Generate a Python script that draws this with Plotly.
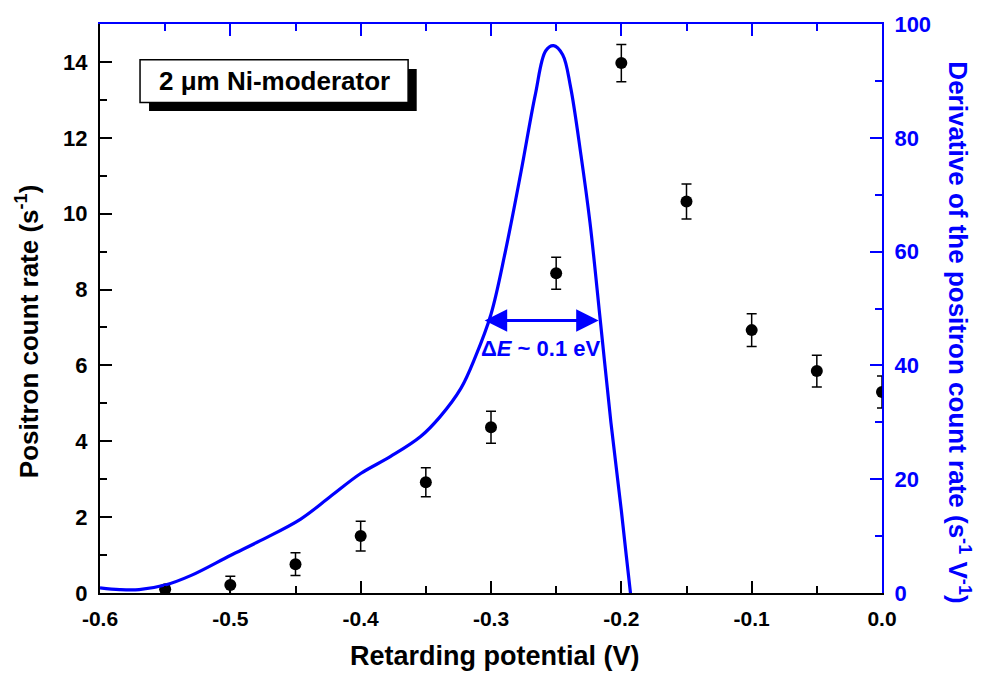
import plotly.graph_objects as go

# ---- data ----
potential = [-0.55, -0.5, -0.45, -0.4, -0.35, -0.3, -0.25, -0.2, -0.15, -0.1, -0.05, 0.0]
count_rate = [0.1, 0.21, 0.76, 1.5, 2.92, 4.37, 8.43, 13.97, 10.32, 6.93, 5.85, 5.3]
count_err = [0.1, 0.23, 0.3, 0.39, 0.38, 0.42, 0.42, 0.49, 0.46, 0.43, 0.42, 0.42]

deriv_x = [-0.6, -0.585, -0.57, -0.55, -0.53, -0.5, -0.477, -0.446, -0.423, -0.4, -0.377,
           -0.354, -0.339, -0.323, -0.312, -0.3, -0.289, -0.277, -0.266, -0.258, -0.252,
           -0.245, -0.239, -0.231, -0.224, -0.216, -0.208, -0.2, -0.193, -0.185]
deriv_y = [0.9, 0.6, 0.6, 1.4, 3.1, 6.6, 9.2, 13.0, 17.0, 21.0, 24.0,
           27.5, 31.0, 36.0, 41.5, 49.0, 60.0, 74.0, 87.6, 95.3, 96.2,
           94.6, 89.0, 77.0, 65.0, 47.6, 30.0, 14.5, 0.0, -15.0]

x_tickvals = [-0.6, -0.5, -0.4, -0.3, -0.2, -0.1, 0.0]
x_ticktext = ["-0.6", "-0.5", "-0.4", "-0.3", "-0.2", "-0.1", "0.0"]

arrow_left, arrow_right, arrow_level = -0.306, -0.2174, 47.9

FONT = "Liberation Sans, Arial, sans-serif"
BLUE = "#0000ff"

fig = go.Figure()
fig.add_trace(go.Scatter(
    x=potential, y=count_rate, mode="markers",
    marker=dict(color="black", size=12),
    error_y=dict(type="data", array=count_err, color="black", thickness=1.5, width=5),
    xaxis="x", yaxis="y", showlegend=False))
fig.add_trace(go.Scatter(
    x=deriv_x, y=deriv_y, mode="lines", line=dict(color=BLUE, width=3.2, shape="spline"),
    xaxis="x2", yaxis="y2", showlegend=False))

fig.update_layout(
    width=984, height=679,
    margin=dict(l=100, r=102, t=19, b=86),
    paper_bgcolor="white", plot_bgcolor="white",
    font=dict(family=FONT),
    xaxis=dict(range=[-0.6, 0.0], tickmode="array", tickvals=x_tickvals, ticktext=x_ticktext,
               showgrid=False, zeroline=False, showline=True, linecolor="black", linewidth=2,
               ticks="inside", ticklen=12, tickwidth=2, tickcolor="black",
               minor=dict(ticks="inside", ticklen=7, tickwidth=2, dtick=0.05, tick0=-0.6, tickcolor="black"),
               tickfont=dict(family=FONT, size=21, color="black", weight="bold"), ticklabelstandoff=6),
    xaxis2=dict(range=[-0.6, 0.0], overlaying="x", side="top", anchor="y2", matches="x",
                tickmode="array", tickvals=x_tickvals, showticklabels=False,
                showgrid=False, zeroline=False, showline=True, linecolor=BLUE, linewidth=2,
                ticks="inside", ticklen=12, tickwidth=2, tickcolor=BLUE,
                minor=dict(ticks="inside", ticklen=7, tickwidth=2, dtick=0.05, tick0=-0.6, tickcolor=BLUE)),
    yaxis=dict(range=[0, 15], dtick=2, tick0=0,
               showgrid=False, zeroline=False, showline=True, linecolor="black", linewidth=2,
               ticks="inside", ticklen=12, tickwidth=2, tickcolor="black",
               minor=dict(ticks="inside", ticklen=7, tickwidth=2, dtick=1, tickcolor="black"),
               tickfont=dict(family=FONT, size=22, color="black", weight="bold"), ticklabelstandoff=6),
    yaxis2=dict(range=[0, 100], dtick=20, tick0=0, overlaying="y", side="right", anchor="x2",
                showgrid=False, zeroline=False, showline=True, linecolor=BLUE, linewidth=2,
                ticks="inside", ticklen=12, tickwidth=2, tickcolor=BLUE,
                minor=dict(ticks="inside", ticklen=7, tickwidth=2, dtick=10, tickcolor=BLUE),
                tickfont=dict(family=FONT, size=22, color=BLUE, weight="bold"), ticklabelstandoff=6),
)

# axis titles
fig.add_annotation(xref="paper", yref="paper", x=0.505, y=-0.11, xanchor="center", yanchor="middle",
                   text="<b>Retarding potential (V)</b>", showarrow=False,
                   font=dict(family=FONT, size=27, color="black"))
fig.add_annotation(xref="paper", yref="paper", x=-0.0935, y=0.46, xanchor="center", yanchor="middle",
                   text="<b>Positron count rate (s<sup>-1</sup>)</b>", textangle=-90, showarrow=False,
                   font=dict(family=FONT, size=26, color="black"))
fig.add_annotation(xref="paper", yref="paper", x=1.0985, y=0.458, xanchor="center", yanchor="middle",
                   text="<b>Derivative of the positron count rate (s<sup>-1</sup> V<sup>-1</sup>)</b>",
                   textangle=90, showarrow=False, font=dict(family=FONT, size=26, color=BLUE))

# label box with drop shadow
fig.add_shape(type="rect", xref="paper", yref="paper", x0=0.0627, x1=0.405, y0=0.847, y1=0.921,
              fillcolor="black", line=dict(width=0), layer="above")
fig.add_shape(type="rect", xref="paper", yref="paper", x0=0.0512, x1=0.394, y0=0.862, y1=0.937,
              fillcolor="white", line=dict(color="black", width=1.5), layer="above")
fig.add_annotation(xref="paper", yref="paper", x=0.2226, y=0.8995, xanchor="center", yanchor="middle",
                   text="<b>2 μm Ni-moderator</b>",
                   showarrow=False, font=dict(family=FONT, size=26, color="black"))

# double-headed arrow
fig.add_annotation(xref="x2", yref="y2", axref="x2", ayref="y2",
                   x=arrow_right, y=arrow_level, ax=arrow_left, ay=arrow_level,
                   text="", showarrow=True, arrowhead=2, startarrowhead=2, arrowside="end+start",
                   arrowsize=1.5, startarrowsize=1.5, arrowwidth=3, arrowcolor=BLUE)
fig.add_annotation(xref="x2", yref="y2", x=(arrow_left + arrow_right) / 2, y=arrow_level - 5,
                   xanchor="center", yanchor="middle",
                   text="<b>Δ<i>E</i> ~ 0.1 eV</b>", showarrow=False,
                   font=dict(family=FONT, size=22, color=BLUE))

fig.write_html("out.html")
